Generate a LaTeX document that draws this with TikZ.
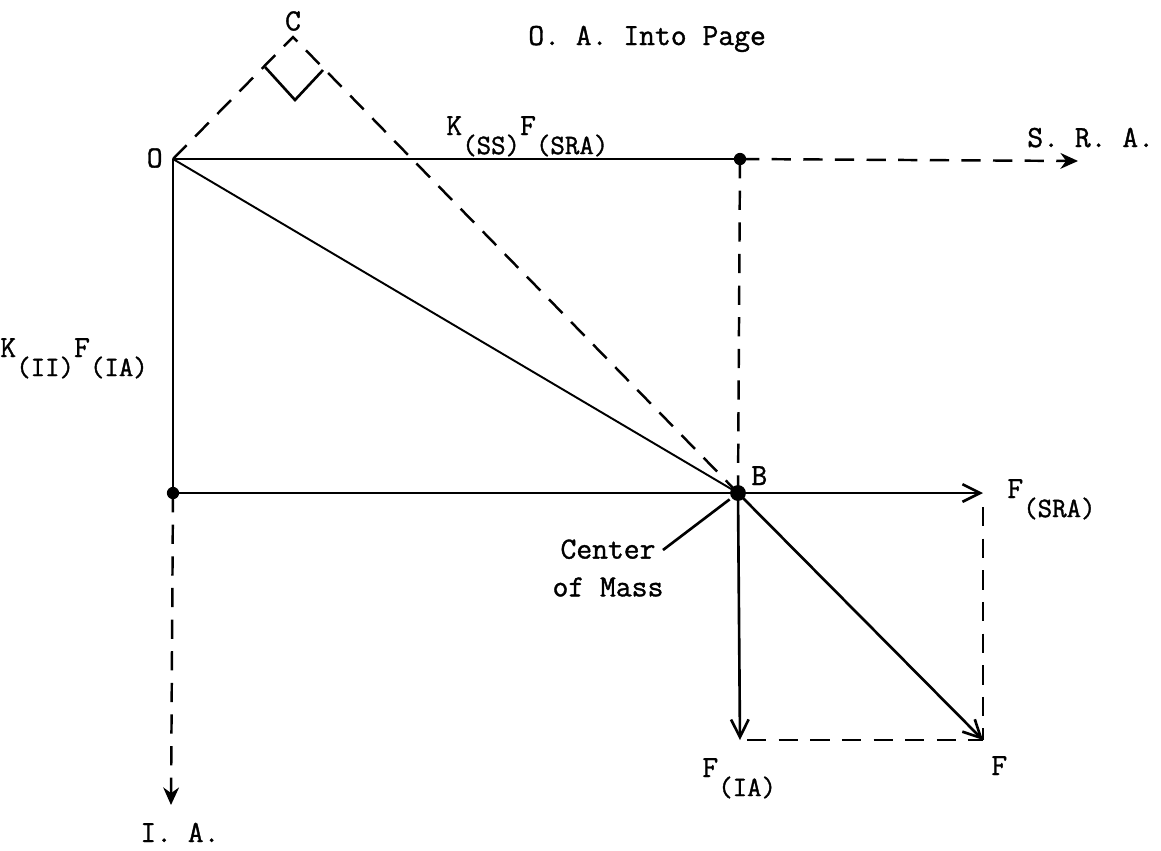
\documentclass[tikz,border=0pt]{standalone}
\usepackage{fontspec}
\setmainfont{Latin Modern Mono}[FakeBold=1.2]
\usetikzlibrary{arrows.meta,positioning}
\newcommand{\sbs}[1]{\raisebox{-0.62em}{\fontsize{16}{18}\selectfont #1}}

\begin{document}
\begin{tikzpicture}[x=0.02cm, y=-0.02cm, >={Stealth[length=10pt,width=9pt]},
  every node/.style={font=\fontsize{17.5}{21.5}\selectfont, inner sep=0pt},
  vec/.style={line width=1.5pt},
  thinvec/.style={line width=1.1pt},
  guide/.style={line width=1.4pt, dash pattern=on 11pt off 7pt},
  barb/.style={-{Straight Barb[length=10pt,width=10pt,line width=1.5pt]}},
  dot/.style={circle, fill, inner sep=0pt, minimum size=#1},
  dot/.default=7pt]
  \useasboundingbox (0,0) rectangle (1161,850);

  % points of the force diagram
  \coordinate (O) at (173,159);
  \coordinate (C) at (293,37);
  \coordinate (Q) at (740,159);
  \coordinate (B) at (738,493);
  \coordinate (P) at (173,493);
  \coordinate (SRA) at (1078,161);
  \coordinate (IA) at (171,805);
  \coordinate (Fs) at (983,493);
  \coordinate (Fi) at (740,740);
  \coordinate (F) at (983,740);

  % rectangle and axes
  \draw[vec] (O) -- (Q);
  \draw[vec] (O) -- (P);
  \draw[vec] (P) -- (B);
  \draw[guide] (Q) -- (B);
  \draw[guide,->] (Q) -- (SRA);
  \draw[guide,->] (P) -- (IA);

  % construction to C
  \draw[thinvec] (O) -- (B);
  \draw[guide] (O) -- (C) -- (B);
  \coordinate (m1) at (265,67);
  \coordinate (m2) at (295,100);
  \coordinate (m3) at (323,70);
  \draw[vec] (m1) -- (m2) -- (m3);

  % force components
  \draw[vec,barb] (B) -- (Fs);
  \draw[vec,barb] (B) -- (Fi);
  \draw[vec,barb] (B) -- (F);
  \draw[guide] ([yshift=-8pt]Fs) -- (F);
  \draw[guide] ([xshift=4pt]Fi) -- (F);

  \node[dot] (dQ) at (Q) {};
  \node[dot] (dP) at (P) {};
  \node[dot=9pt] (dB) at (B) {};

  % labels
  \node (lC) at (293,21) {C};
  \node[anchor=east] (lO) at (163,158) {O};
  \node[anchor=base west] (lOA) at (528,45) {O. A. Into Page};
  \node[anchor=base west] (lKs) at (446,135) {K\sbs{(SS)}F\sbs{(SRA)}};
  \node[anchor=base west] (lSRA) at (1027,147) {S. R. A.};
  \node[anchor=base west] (lKi) at (0,357) {K\sbs{(II)}F\sbs{(IA)}};
  \node[anchor=base west] (lB) at (751,485) {B};
  \node[anchor=base west] (lFs) at (1007,498) {F\sbs{(SRA)}};
  \node[anchor=base west] (lFi) at (702,777) {F\sbs{(IA)}};
  \node[anchor=base west] (lF) at (991,775) {F};
  \node[anchor=base west] (lIA) at (140,842) {I. A.};
  \node[align=center] (lCM) at (608,568) {Center\\of Mass};
  \coordinate (lead) at (663,550);
  \draw[vec, shorten >=6pt] (lead) -- (B);
\end{tikzpicture}
\end{document}
